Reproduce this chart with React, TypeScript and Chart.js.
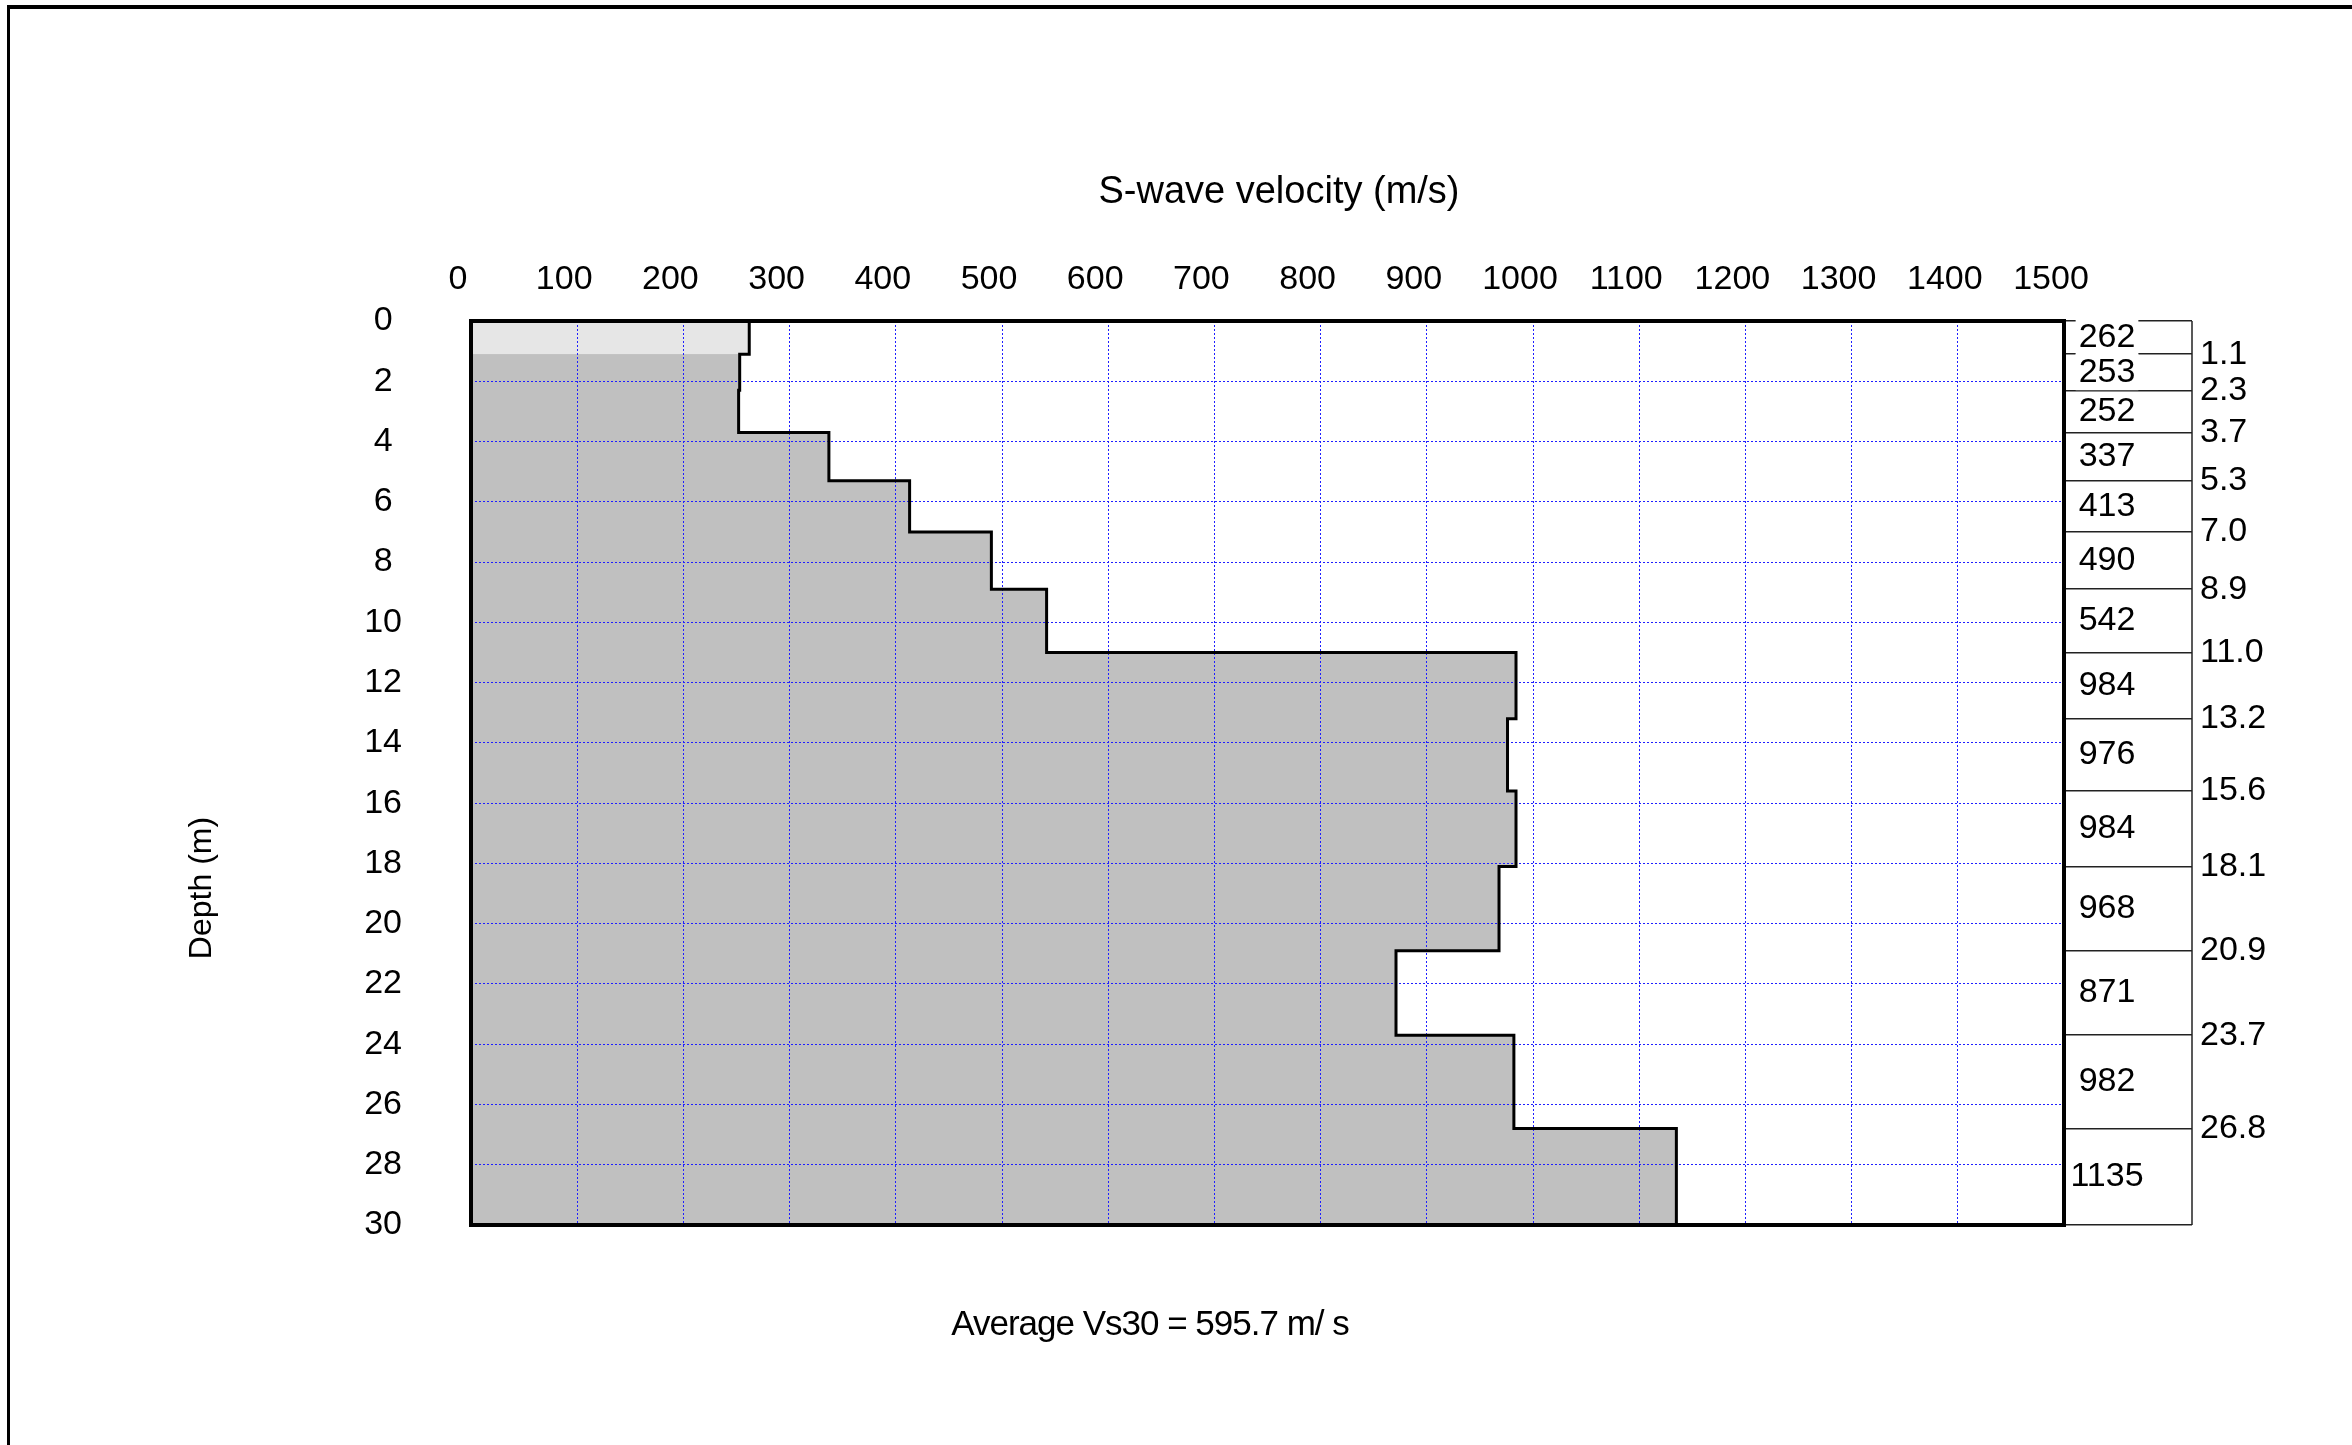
import React, { useEffect, useRef } from 'react';
import { Chart, registerables } from 'chart.js';

Chart.register(...registerables);

// ---- data ----
const layerBoundaries = [0, 1.1, 2.3, 3.7, 5.3, 7.0, 8.9, 11.0, 13.2, 15.6, 18.1, 20.9, 23.7, 26.8, 30];
const layerVelocities = [262, 253, 252, 337, 413, 490, 542, 984, 976, 984, 968, 871, 982, 1135];
const velocityTicks = [0, 100, 200, 300, 400, 500, 600, 700, 800, 900, 1000, 1100, 1200, 1300, 1400, 1500];
const depthTicks = [0, 2, 4, 6, 8, 10, 12, 14, 16, 18, 20, 22, 24, 26, 28, 30];
const xTitle = 'S-wave velocity (m/s)';
const yTitle = 'Depth (m)';
const averageLabel = 'Average Vs30 = 595.7 m/ s';

const FONT = '"Liberation Sans", Arial, Helvetica, sans-serif';
const TABLE_W = 128;

const profilePoints = layerVelocities.flatMap((v, i) => [
  { x: v, y: layerBoundaries[i] },
  { x: v, y: layerBoundaries[i + 1] },
]);
const topLayerPoints = [
  { x: layerVelocities[0], y: layerBoundaries[0] },
  { x: layerVelocities[0], y: layerBoundaries[1] },
];

const decorations = {
  id: 'decorations',
  afterDraw(chart: any) {
    const { ctx, chartArea: a, scales } = chart;
    const y = scales.y;
    ctx.save();
    // plot frame
    ctx.strokeStyle = '#000';
    ctx.lineWidth = 4;
    ctx.strokeRect(a.left, a.top, a.right - a.left, a.bottom - a.top);
    // table right edge
    const boxRight = a.right + TABLE_W;
    ctx.lineWidth = 1.5;
    ctx.strokeStyle = '#222';
    ctx.beginPath();
    ctx.moveTo(boxRight, y.getPixelForValue(layerBoundaries[0]));
    ctx.lineTo(boxRight, y.getPixelForValue(layerBoundaries[layerBoundaries.length - 1]));
    ctx.stroke();
    // velocity labels in the table
    ctx.font = `34px ${FONT}`;
    ctx.textAlign = 'center';
    ctx.textBaseline = 'middle';
    layerVelocities.forEach((v, i) => {
      const yc = y.getPixelForValue((layerBoundaries[i] + layerBoundaries[i + 1]) / 2);
      const text = String(v);
      const w = ctx.measureText(text).width;
      const xc = a.right + 43;
      ctx.fillStyle = '#fff';
      ctx.fillRect(xc - w / 2 - 3, yc - 18, w + 6, 36);
      ctx.fillStyle = '#000';
      ctx.fillText(text, xc, yc);
    });
    // x title
    ctx.font = `38px ${FONT}`;
    ctx.fillStyle = '#000';
    ctx.textAlign = 'center';
    ctx.textBaseline = 'middle';
    ctx.fillText(xTitle, 1279, 193);
    // y title
    ctx.save();
    ctx.translate(202, 888);
    ctx.rotate(-Math.PI / 2);
    ctx.font = `32px ${FONT}`;
    ctx.fillStyle = '#000';
    ctx.textAlign = 'center';
    ctx.textBaseline = 'middle';
    ctx.fillText(yTitle, 0, 0);
    ctx.restore();
    // average label
    ctx.font = `35px ${FONT}`;
    try { (ctx as any).letterSpacing = '-1px'; } catch (e) {}
    ctx.fillStyle = '#000';
    ctx.textAlign = 'center';
    ctx.textBaseline = 'middle';
    ctx.fillText(averageLabel, 1150, 1325);
    try { (ctx as any).letterSpacing = '0px'; } catch (e) {}
    ctx.restore();
  },
};

export default function App() {
  const ref = useRef<HTMLCanvasElement>(null);
  useEffect(() => {
    Chart.defaults.font.family = FONT;
    Chart.defaults.color = '#000';
    const gridColor = '#1f1fff';
    const chart = new Chart(ref.current as HTMLCanvasElement, {
      type: 'line',
      data: {
        datasets: [
          {
            data: topLayerPoints,
            borderWidth: 0,
            borderColor: 'rgba(0,0,0,0)',
            backgroundColor: '#e6e6e6',
            fill: { value: 0 },
            pointRadius: 0,
          },
          {
            data: profilePoints,
            borderColor: '#000',
            borderWidth: 3,
            backgroundColor: '#c0c0c0',
            fill: { value: 0 },
            pointRadius: 0,
            tension: 0,
          },
        ] as any,
      },
      plugins: [decorations],
      options: {
        indexAxis: 'y',
        animation: false,
        responsive: false,
        devicePixelRatio: 1,
        events: [],
        layout: { autoPadding: false, padding: { left: 0, top: 0, right: 0, bottom: 220 } } as any,
        plugins: {
          legend: { display: false },
          tooltip: { enabled: false },
          filler: { drawTime: 'beforeDraw', propagate: false },
        } as any,
        scales: {
          x: {
            type: 'linear',
            position: 'top',
            min: 0,
            max: 1500,
            afterBuildTicks: (s: any) => { s.ticks = velocityTicks.map((v) => ({ value: v })); },
            afterFit: (s: any) => { s.height = 321; },
            ticks: {
              font: { size: 34 },
              padding: 21,
              labelOffset: -13,
              autoSkip: false,
              maxRotation: 0,
              color: '#000',
              callback: (v: any) => String(v),
            },
            grid: { color: gridColor, lineWidth: 1, drawTicks: false },
            border: { display: false, dash: [2, 2] },
          },
          y: {
            type: 'linear',
            position: 'left',
            reverse: true,
            min: 0,
            max: 30,
            afterBuildTicks: (s: any) => { s.ticks = depthTicks.map((v) => ({ value: v })); },
            afterFit: (s: any) => { s.width = 471; },
            ticks: { font: { size: 34 }, padding: 69, crossAlign: 'center', autoSkip: false, color: '#000', callback: (v: any) => String(v) },
            grid: { color: gridColor, lineWidth: 1, drawTicks: false },
            border: { display: false, dash: [2, 2] },
          },
          y2: {
            type: 'linear',
            axis: 'y',
            position: 'right',
            reverse: true,
            min: 0,
            max: 30,
            afterBuildTicks: (s: any) => { s.ticks = layerBoundaries.map((v) => ({ value: v })); },
            afterFit: (s: any) => { s.width = 288; },
            ticks: {
              font: { size: 34 },
              padding: 8,
              autoSkip: false,
              color: '#000',
              callback: (v: any) => (v === layerBoundaries[0] || v === layerBoundaries[layerBoundaries.length - 1] ? '' : Number(v).toFixed(1)),
            },
            grid: { drawOnChartArea: false, drawTicks: true, tickLength: TABLE_W, color: '#222', lineWidth: 1.5 },
            border: { display: false },
          },
        } as any,
      },
    } as any);
    return () => chart.destroy();
  }, []);
  return (
    <div style={{ position: 'fixed', left: 0, top: 0, width: 2352, height: 1445, overflow: 'hidden', background: '#fff' }}>
      <div style={{ position: 'absolute', left: 7, top: 5, width: 2400, height: 1500, borderTop: '4px solid #000', borderLeft: '3px solid #000' }} />
      <canvas ref={ref} width={2352} height={1445} style={{ position: 'absolute', left: 0, top: 0, width: 2352, height: 1445 }} />
    </div>
  );
}
